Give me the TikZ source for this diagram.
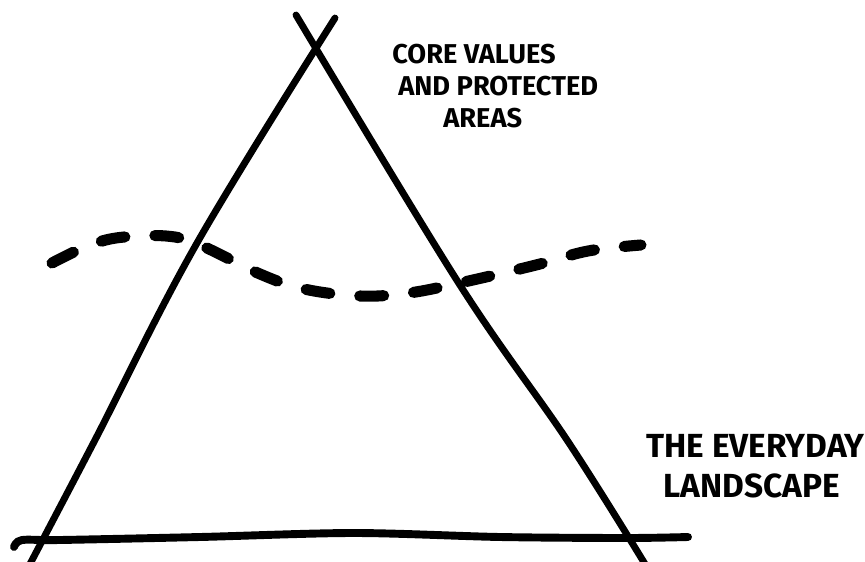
\documentclass[tikz,border=0pt]{standalone}
\usepackage{fontspec}
\setmainfont{Fira Sans}
\tikzset{
  leg/.style={line width=3.9pt, line cap=round},
  ground/.style={line width=4.5pt, line cap=round},
  edge/.style={line width=6.3pt, line cap=round, dash pattern=on 0.48cm off 0.6cm},
  hand/.style={font=\bfseries\fontsize{15.5}{18}\selectfont, anchor=base west, inner sep=0pt},
  bighand/.style={font=\bfseries\fontsize{19}{23}\selectfont, anchor=base west, inner sep=0pt}
}
\begin{document}
\begin{tikzpicture}[x=0.02cm, y=-0.02cm]
            \useasboundingbox (0,0) rectangle (865,561);
            \draw[leg] plot[smooth, tension=0.6] coordinates
            {(335,18) (197,243) (95,440) (30,564)};
            \draw[leg] plot[smooth, tension=0.6] coordinates
            {(296,15) (458,282) (567,440) (645,564)};
            \draw[ground] plot[smooth, tension=0.5] coordinates
            {(14,547) (22,540) (60,540) (200,537) (354,533) (500,537) (627,538) (688,537)};
            \draw[edge] plot[smooth, tension=0.6] coordinates
            {(52,263) (83,248) (116,238) (166,236) (200,245) (260,274) (304,289)
             (360,296) (409,293) (464,282) (536,265) (588,251) (641,245)};
            \node[hand] (core) at (392,63) {CORE VALUES};
            \node[hand] (protected) at (398,95) {AND PROTECTED};
            \node[hand] (areas) at (443,127) {AREAS};
            \node[bighand] (everyday) at (646,457) {THE EVERYDAY};
            \node[bighand] (landscape) at (663,497) {LANDSCAPE};
        \end{tikzpicture}
\end{document}
